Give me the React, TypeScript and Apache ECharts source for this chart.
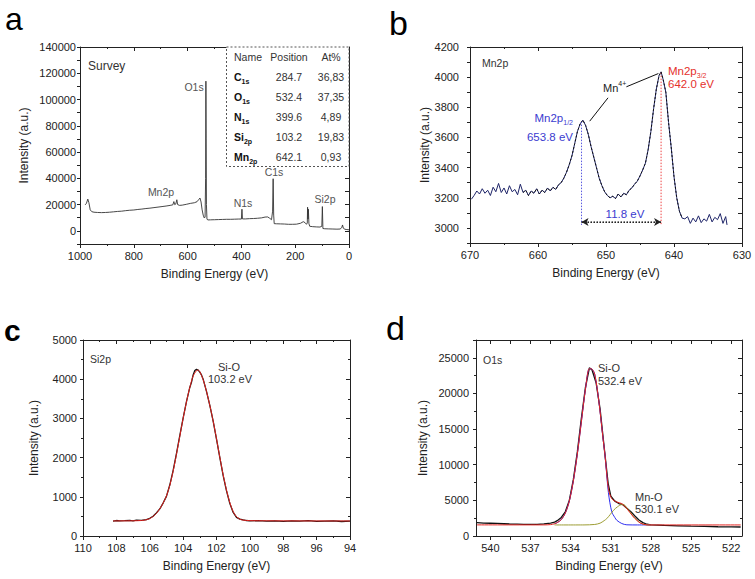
import React, { useEffect, useRef } from 'react';
import * as echarts from 'echarts';

const FONT = '"Liberation Sans", Arial, sans-serif';
const LETTER_FONT = '"Liberation Sans", Arial, sans-serif';

// ---------- Panel a: survey ----------
const surveyData: [number, number][] = [
  [981, 19800], [976, 21000], [971, 24200], [967, 21500], [962, 16000], [956, 14600], [948, 14200],
  [935, 14000], [920, 13900], [905, 14000], [890, 14200], [875, 14500], [860, 14800], [845, 15000],
  [830, 15400], [815, 15700], [800, 15900], [785, 16300], [770, 16600], [755, 17000], [740, 17300],
  [725, 17700], [710, 18100], [695, 18500], [680, 18900], [665, 19400], [655, 19800], [651, 22300],
  [648, 20000], [644, 20400], [640, 23700], [637, 20000], [630, 19400], [620, 19600], [605, 20200],
  [590, 20900], [575, 21400], [565, 22200], [558, 24000], [554, 25000], [550, 22000], [546, 16000],
  [542, 12000], [538, 9800], [535, 10500], [533, 40000], [532, 114000], [531, 70000], [530, 20000],
  [528, 9000], [525, 8300], [515, 8400], [500, 8500], [485, 8600], [470, 8700], [455, 8800],
  [440, 8800], [425, 8900], [410, 9000], [400, 9000], [398, 16500], [396, 9100], [385, 9100],
  [370, 9300], [355, 9400], [340, 9600], [325, 9900], [312, 10500], [302, 10600], [295, 9600],
  [288, 8500], [284, 15000], [282, 39700], [280, 12000], [278, 5500], [270, 5400], [255, 5300],
  [240, 5200], [225, 5000], [210, 5000], [195, 5100], [180, 5800], [170, 7000], [163, 6200],
  [158, 5000], [155, 6000], [154, 18000], [152.5, 9000], [151, 16500], [149, 5500], [146, 3500],
  [135, 3200], [120, 3000], [108, 2900], [101, 3500], [99, 18500], [97, 1800], [90, 1600],
  [75, 1500], [60, 1400], [45, 1300], [33, 1400], [27, 2500], [24, 4500], [21, 2000], [15, 1200],
  [8, 1000], [0, 800],
];
const surveyLabels = ['O1s', 'Mn2p', 'N1s', 'C1s', 'Si2p'];
const tableHeader = ['Name', 'Position', 'At%'];
const tableElements = ['C', 'O', 'N', 'Si', 'Mn'];
const tableOrbitals = ['1s', '1s', '1s', '2p', '2p'];
const tablePositions = ['284.7', '532.4', '399.6', '103.2', '642.1'];
const tableAtPercent = ['36,83', '37,35', '4,89', '19,83', '0,93'];

// ---------- Panel b: Mn2p ----------
const mn2pData: [number, number][] = [
  [669.8, 3190], [669.4, 3215], [669.0, 3245], [668.6, 3225], [668.2, 3260], [667.8, 3230],
  [667.4, 3250], [667.0, 3215], [666.6, 3270], [666.2, 3240], [665.8, 3295], [665.4, 3235],
  [665.0, 3265], [664.6, 3225], [664.2, 3280], [663.8, 3240], [663.4, 3255], [663.0, 3220],
  [662.6, 3290], [662.2, 3235], [661.8, 3250], [661.4, 3215], [661.0, 3245], [660.6, 3230],
  [660.2, 3260], [659.8, 3225], [659.4, 3250], [659.0, 3235], [658.6, 3265], [658.2, 3245],
  [657.8, 3270], [657.4, 3255], [657.0, 3285], [656.6, 3300], [656.2, 3330], [655.8, 3370],
  [655.4, 3420], [655.0, 3480], [654.6, 3560], [654.2, 3640], [653.8, 3690], [653.4, 3715],
  [653.0, 3680], [652.6, 3620], [652.2, 3540], [651.8, 3470], [651.4, 3400], [651.0, 3330],
  [650.6, 3280], [650.2, 3240], [649.8, 3215], [649.4, 3200], [649.0, 3210], [648.6, 3195],
  [648.2, 3225], [647.8, 3205], [647.4, 3230], [647.0, 3220], [646.6, 3250], [646.2, 3265],
  [645.8, 3290], [645.4, 3310], [645.0, 3345], [644.6, 3385], [644.2, 3430], [643.8, 3520],
  [643.4, 3640], [643.0, 3790], [642.6, 3920], [642.2, 4010], [641.9, 4035], [641.6, 3985],
  [641.2, 3900], [640.8, 3700], [640.4, 3530], [640.0, 3340], [639.6, 3200], [639.2, 3110],
  [638.8, 3065], [638.4, 3060], [638.0, 3075], [637.6, 3030], [637.2, 3065], [636.8, 3040],
  [636.4, 3080], [636.0, 3035], [635.6, 3060], [635.2, 3045], [634.8, 3090], [634.4, 3040],
  [634.0, 3070], [633.6, 3055], [633.2, 3095], [632.8, 3030], [632.4, 3075], [632.2, 3020],
];
const mn2pHalfLine: [number, number][] = [[653.6, 3705], [653.6, 3020]];
const mn2pThreeHalfLine: [number, number][] = [[641.9, 4030], [641.9, 3020]];
const splittingArrow: [number, number][] = [[653.6, 3040], [641.9, 3040]];
const leaderLeft: [number, number][] = [[649.7, 3863], [652.4, 3708]];
const leaderRight: [number, number][] = [[647.0, 3936], [642.3, 4024]];

// ---------- Panel c: Si2p ----------
const si2pData: [number, number][] = [
  [108.2, 380], [108, 395], [107.8, 385], [107.5, 392], [107.2, 400], [107, 385], [106.8, 405],
  [106.5, 398], [106.2, 420], [106, 452], [105.8, 505], [105.6, 590], [105.4, 690], [105.2, 840],
  [105, 1010], [104.8, 1300], [104.6, 1670], [104.4, 2100], [104.2, 2560], [104, 3010], [103.8, 3430],
  [103.6, 3790], [103.5, 3920], [103.4, 4110], [103.3, 4220], [103.2, 4250], [103.1, 4230], [103, 4180],
  [102.9, 4110], [102.8, 4000], [102.6, 3690], [102.4, 3330], [102.2, 2930], [102, 2470], [101.8, 2000],
  [101.6, 1540], [101.4, 1150], [101.2, 830], [101, 600], [100.8, 475], [100.6, 430], [100.4, 410],
  [100.2, 395], [100, 385], [99.5, 392], [99, 380], [98.5, 388], [98, 372], [97.5, 385], [97, 378],
  [96.5, 390], [96, 375], [95.5, 380], [95, 385], [94.5, 370], [94, 378],
];
const si2pFit: [number, number][] = [
  [108.2, 385], [107, 388], [106.5, 395], [106.2, 415], [106, 445], [105.8, 498], [105.6, 580],
  [105.4, 690], [105.2, 840], [105, 1020], [104.8, 1290], [104.6, 1650], [104.4, 2080], [104.2, 2540],
  [104, 3000], [103.8, 3420], [103.6, 3790], [103.4, 4080], [103.2, 4220], [103.1, 4230], [103, 4190],
  [102.8, 3990], [102.6, 3690], [102.4, 3330], [102.2, 2930], [102, 2480], [101.8, 2010], [101.6, 1560],
  [101.4, 1170], [101.2, 850], [101, 620], [100.8, 490], [100.6, 430], [100.4, 405], [100, 392],
  [99, 388], [97, 385], [95, 384], [94, 384],
];

// ---------- Panel d: O1s ----------
const o1sData: [number, number][] = [
  [541.0, 1880], [540.5, 1820], [540, 1790], [539.5, 1760], [539, 1720], [538.5, 1680], [538, 1660],
  [537.5, 1640], [537, 1620], [536.5, 1640], [536, 1700], [535.5, 1820], [535.2, 1950], [535, 2150],
  [534.7, 2600], [534.4, 3400], [534.1, 5000], [533.8, 7900], [533.5, 11800], [533.2, 16500],
  [532.9, 20800], [532.6, 23600], [532.4, 23300], [532.1, 21500], [531.8, 17800], [531.5, 12500],
  [531.2, 7400], [531.0, 5600], [530.7, 4900], [530.4, 4550], [530.1, 4400], [529.8, 3900],
  [529.5, 3400], [529.2, 2800], [528.9, 2250], [528.6, 1880], [528.3, 1650], [528, 1560], [527, 1480],
  [526, 1430], [525, 1380], [524, 1340], [523, 1300], [522, 1280], [521.3, 1260],
];
const o1sFit: [number, number][] = [
  [541.0, 1560], [536, 1560], [535.5, 1600], [535.2, 1720], [535, 1880], [534.7, 2300], [534.4, 3200],
  [534.1, 4900], [533.8, 7700], [533.5, 11500], [533.2, 16000], [532.9, 20500], [532.6, 23500],
  [532.4, 23400], [532.2, 22700], [531.9, 19000], [531.6, 14000], [531.43, 11300], [531.18, 6640],
  [530.93, 5240], [530.55, 4760], [530.18, 4540], [529.8, 3840], [529.3, 2660], [528.8, 1820],
  [528.3, 1560], [528, 1550], [521.3, 1550],
];
const o1sSiO: [number, number][] = [
  [535.2, 1720], [535, 1880], [534.7, 2300], [534.4, 3200], [534.1, 4900], [533.8, 7700],
  [533.5, 11500], [533.2, 16000], [532.9, 20500], [532.6, 23500], [532.4, 23400], [532.2, 22700],
  [531.9, 19000], [531.6, 14000], [531.43, 11300], [531.18, 6100], [530.93, 3400], [530.7, 2600],
  [530.55, 2200], [530.18, 1750], [529.8, 1570], [529.0, 1550], [528.0, 1550],
];
const o1sMnO: [number, number][] = [
  [535.2, 1550], [533, 1555], [532.2, 1620], [531.8, 1800], [531.5, 2150], [531.3, 2440],
  [531.05, 3000], [530.8, 3600], [530.5, 4100], [530.18, 4400], [530.0, 4380], [529.8, 3900],
  [529.5, 3250], [529.3, 2700], [529.0, 2150], [528.8, 1850], [528.5, 1620], [528.3, 1560], [528.0, 1550],
];
const o1sTicks = [522, 523.5, 525, 526.5, 528, 529.5, 531, 532.5, 534, 535.5, 537, 538.5, 540];
const o1sTickLabels = [522, 525, 528, 531, 534, 537, 540];

const LINE = { color: '#222', width: 1 };
const TICK_LABEL = { color: '#222', fontSize: 11, fontFamily: FONT };
const NAME_STYLE = { color: '#222', fontSize: 12, fontFamily: FONT };
const plain = (v: number) => String(v);

function xAxesFor(grid: number, c: any) {
  const base: any = {
    type: 'value', gridIndex: grid, min: c.min, max: c.max, inverse: true,
    splitLine: { show: false }, axisLine: { show: true, onZero: false, lineStyle: LINE },
  };
  if (c.interval) base.interval = c.interval;
  const tick = (inside: boolean) => {
    const t: any = { show: true, inside, length: 4, lineStyle: LINE };
    if (c.ticks) t.customValues = c.ticks;
    return t;
  };
  const minor = { show: !c.ticks, splitNumber: 2, length: 2, lineStyle: LINE };
  const label: any = { ...TICK_LABEL, margin: 6, formatter: plain };
  if (c.labels) label.customValues = c.labels;
  return [
    {
      ...base, position: 'bottom', axisTick: tick(false), minorTick: minor, axisLabel: label,
      name: 'Binding Energy (eV)', nameLocation: 'middle', nameGap: c.nameGap, nameTextStyle: NAME_STYLE,
    },
    { ...base, position: 'top', axisTick: tick(true), minorTick: minor, axisLabel: { show: false } },
  ];
}

function yAxesFor(grid: number, c: any) {
  const base: any = {
    type: 'value', gridIndex: grid, min: c.min, max: c.max, interval: c.interval,
    splitLine: { show: false }, axisLine: { show: true, onZero: false, lineStyle: LINE },
  };
  const minor = { show: !!c.minor, splitNumber: 2, length: 2, lineStyle: LINE };
  return [
    {
      ...base, position: 'left', axisTick: { show: true, inside: false, length: 3, lineStyle: LINE },
      minorTick: minor,
      axisLabel: { ...TICK_LABEL, margin: c.margin, formatter: c.formatter || plain },
      name: 'Intensity (a.u.)', nameLocation: 'middle', nameGap: c.nameGap, nameTextStyle: NAME_STYLE,
    },
    {
      ...base, position: 'right', axisTick: { show: true, inside: true, length: 4, lineStyle: LINE },
      minorTick: minor, axisLabel: { show: false },
    },
  ];
}

function txt(x: number, y: number, text: string, o: any = {}) {
  const style: any = {
    text, fill: o.fill || '#333', fontSize: o.size || 11, fontFamily: o.family || FONT,
    fontWeight: o.weight || 'normal', align: o.align || 'left', verticalAlign: 'middle',
    rich: o.rich,
  };
  if (o.lineHeight) style.lineHeight = o.lineHeight;
  return { type: 'text', x, y, silent: true, z: 100, style };
}

function line(name: string, data: [number, number][], g: number, color: string, extra: any = {}) {
  return {
    type: 'line', name, data, xAxisIndex: 2 * g, yAxisIndex: 2 * g, showSymbol: false, symbol: 'none',
    silent: true, lineStyle: { color, width: 1, ...(extra.lineStyle || {}) }, z: extra.z || 2,
    smooth: extra.smooth || false, markLine: extra.markLine,
  };
}

export default function App() {
  const ref = useRef<HTMLDivElement>(null);
  useEffect(() => {
    if (!ref.current) return;
    const chart = echarts.init(ref.current, null, { renderer: 'svg' });
    const blue = '#3b3bd0';
    const red = '#e5302c';
    const subRich = (size: number, color: string, bold = false) => ({
      m: { fontSize: size, fontFamily: FONT, fill: color, fontWeight: bold ? 'bold' : 'normal', lineHeight: 16 },
      s: { fontSize: 7, fontFamily: FONT, fill: color, fontWeight: bold ? 'bold' : 'normal', verticalAlign: 'bottom', lineHeight: 8 },
      u: { fontSize: 7, fontFamily: FONT, fill: color, verticalAlign: 'top', lineHeight: 8 },
    });
    const letter = { family: LETTER_FONT, fill: '#000', lineHeight: 30 };

    const graphics: any[] = [
      txt(5, 19, 'a', { ...letter, size: 32 }),
      txt(389, 23, 'b', { ...letter, size: 34 }),
      txt(4, 330, 'c', { ...letter, size: 30, weight: 'bold' }),
      txt(386, 328, 'd', { ...letter, size: 34 }),
      // panel a
      txt(88, 66, 'Survey', { size: 12 }),
      txt(194, 87, surveyLabels[0], { size: 10.5, fill: '#555', align: 'center' }),
      txt(161, 192, surveyLabels[1], { size: 10.5, fill: '#555', align: 'center' }),
      txt(243, 203, surveyLabels[2], { size: 10.5, fill: '#555', align: 'center' }),
      txt(274, 172, surveyLabels[3], { size: 10.5, fill: '#555', align: 'center' }),
      txt(325, 199, surveyLabels[4], { size: 10.5, fill: '#555', align: 'center' }),
      {
        type: 'rect', z: 99, silent: true, shape: { x: 226.5, y: 47, width: 122.5, height: 119.5 },
        style: { fill: '#fff', stroke: '#555', lineWidth: 1, lineDash: [2, 2] },
      },
      txt(234, 57, tableHeader[0], { size: 10.5 }),
      txt(289, 57, tableHeader[1], { size: 10.5, align: 'center' }),
      txt(331, 57, tableHeader[2], { size: 10.5, align: 'center' }),
      // panel b
      txt(482, 63, 'Mn2p', { size: 10.5 }),
      txt(573, 118, '{m|Mn2p}{s|1/2}', { align: 'right', rich: subRich(11.5, blue) }),
      txt(573, 137, '653.8 eV', { size: 11.5, fill: blue, align: 'right' }),
      txt(668, 71, '{m|Mn2p}{s|3/2}', { rich: subRich(11.5, red) }),
      txt(668, 84, '642.0 eV', { size: 11.5, fill: red }),
      txt(603, 88, '{m|Mn}{u|4+}', { rich: subRich(11, '#222') }),
      txt(625, 214, '11.8 eV', { size: 11.5, fill: blue, align: 'center' }),
      // panel c
      txt(90, 359, 'Si2p', { size: 10.5 }),
      txt(229, 367, 'Si-O', { size: 11, align: 'center' }),
      txt(230, 379, '103.2 eV', { size: 11, align: 'center' }),
      // panel d
      txt(483, 360, 'O1s', { size: 10.5 }),
      txt(598, 368, 'Si-O', { size: 11 }),
      txt(598, 381, '532.4 eV', { size: 11 }),
      txt(635, 497, 'Mn-O', { size: 11 }),
      txt(635, 509, '530.1 eV', { size: 11 }),
    ];
    tableElements.forEach((el, i) => {
      const y = 77 + i * 20;
      graphics.push(txt(234, y, `{m|${el}}{s|${tableOrbitals[i]}}`, { rich: subRich(10.5, '#111', true) }));
      graphics.push(txt(289, y, tablePositions[i], { size: 10.5, align: 'center' }));
      graphics.push(txt(331, y, tableAtPercent[i], { size: 10.5, align: 'center' }));
    });

    const midBlack = mn2pData.filter((p) => p[0] <= 662.5 && p[0] >= 638.5);

    const option: any = {
      animation: false,
      backgroundColor: '#fff',
      grid: [
        { left: 80, top: 47, width: 269, height: 197, outerBoundsMode: 'none', containLabel: false },
        { left: 470, top: 47, width: 272, height: 196, outerBoundsMode: 'none', containLabel: false },
        { left: 83, top: 340, width: 267, height: 196, outerBoundsMode: 'none', containLabel: false },
        { left: 476, top: 340, width: 266, height: 196, outerBoundsMode: 'none', containLabel: false },
      ],
      xAxis: [
        ...xAxesFor(0, { min: 0, max: 1000, interval: 200, nameGap: 24 }),
        ...xAxesFor(1, { min: 630, max: 670, interval: 10, nameGap: 24 }),
        ...xAxesFor(2, { min: 94, max: 110, interval: 2, nameGap: 24 }),
        ...xAxesFor(3, { min: 521.2, max: 541.07, ticks: o1sTicks, labels: o1sTickLabels, nameGap: 24 }),
      ],
      yAxis: [
        ...yAxesFor(0, {
          min: -10000, max: 140000, interval: 10000, margin: 4, nameGap: 50,
          formatter: (v: number) => (v >= 0 && v % 20000 === 0 ? String(v) : ''),
        }),
        ...yAxesFor(1, {
          min: 2900, max: 4200, interval: 100, margin: 11, nameGap: 38,
          formatter: (v: number) => (v >= 3000 && v % 200 === 0 ? String(v) : ''),
        }),
        ...yAxesFor(2, { min: 0, max: 5000, interval: 1000, margin: 6, nameGap: 43, minor: true }),
        ...yAxesFor(3, {
          min: 0, max: 27500, interval: 5000, margin: 7, nameGap: 47, minor: true,
          formatter: (v: number) => (v % 5000 === 0 ? String(v) : ''),
        }),
      ],
      series: [
        line('survey', surveyData, 0, '#333', { lineStyle: { width: 0.9 } }),
        line('Mn2p data', mn2pData, 1, '#1e2468'),
        line('Mn2p overlay', midBlack, 1, '#111', {
          lineStyle: { type: [2, 2] }, z: 3,
        }),
        line('Mn2p1/2 marker', mn2pHalfLine, 1, '#5a5ae0', { lineStyle: { type: [1.5, 1.5] } }),
        line('Mn2p3/2 marker', mn2pThreeHalfLine, 1, '#ee4444', { lineStyle: { type: [1.5, 1.5] } }),
        line('splitting', splittingArrow, 1, '#222', {
          lineStyle: { type: [1.5, 1.5] },
          markLine: {
            silent: true, animation: false, symbol: ['arrow', 'arrow'], symbolSize: [6, 7],
            label: { show: false }, lineStyle: { color: '#222', type: [1.5, 1.5], width: 1 },
            data: [[{ coord: splittingArrow[0] }, { coord: splittingArrow[1] }]],
          },
        }),
        line('leader left', leaderLeft, 1, '#111'),
        line('leader right', leaderRight, 1, '#111'),
        line('Si2p data', si2pData, 2, '#111', { lineStyle: { width: 1.3 } }),
        line('Si2p fit', si2pFit, 2, '#e3231f', { smooth: 0.3, z: 3 }),
        line('O1s data', o1sData, 3, '#111', { lineStyle: { width: 1.3 } }),
        line('Si-O', o1sSiO, 3, '#2f2ff0', { smooth: 0.3, z: 3 }),
        line('Mn-O', o1sMnO, 3, '#9c9c32', { smooth: 0.3, z: 3 }),
        line('O1s fit', o1sFit, 3, '#e3231f', { smooth: 0.3, z: 4 }),
      ],
      graphic: graphics,
    };
    chart.setOption(option);
    return () => chart.dispose();
  }, []);
  return (
    <div
      ref={ref}
      style={{ position: 'fixed', left: 0, top: 0, width: 755, height: 579, background: '#fff' }}
    />
  );
}
